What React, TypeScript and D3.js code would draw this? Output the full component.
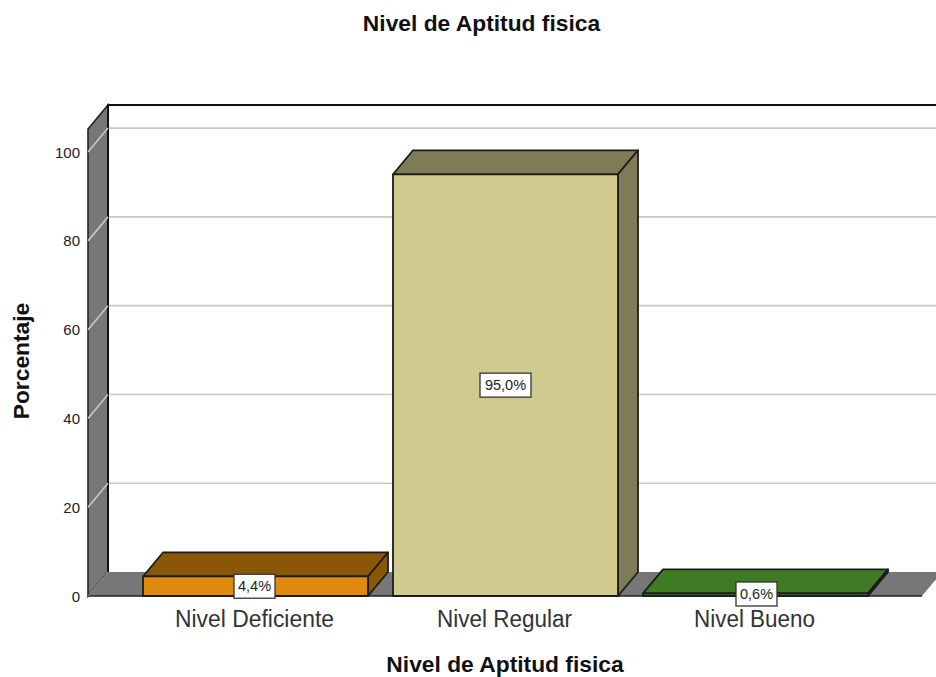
import React from "react";
import * as d3 from "d3";

const categories = ["Nivel Deficiente", "Nivel Regular", "Nivel Bueno"];
const percentages = [4.4, 95.0, 0.6];
const percentLabels = ["4,4%", "95,0%", "0,6%"];
const frontColors = ["#e08b10", "#cfca8e", "#3f7a25"];
const darkColors = ["#8a5608", "#7f7b57", "#3f7a25"];
const yTicks = [0, 20, 40, 60, 80, 100];
const chartTitle = "Nivel de Aptitud fisica";
const yTitle = "Porcentaje";

const W = 936, H = 677;
const DX = 20, DY = -24;
const FONT = "'Liberation Sans', Arial, sans-serif";

export default function App() {
  const y = d3.scaleLinear().domain([0, 105.2]).range([596, 129]);
  const x = d3.scaleBand<string>().domain(categories).range([130.5, 880.5]).paddingInner(0.1).paddingOuter(0.05);
  const bw = x.bandwidth();
  const y0 = y(0);
  const yTop = y(105.2);
  const xL = 88;
  const xR = 922;
  const poly = (pts: number[][]) => pts.map((p) => p.join(",")).join(" ");
  return (
    <svg width={W} height={H} style={{ position: "absolute", left: 0, top: 0, background: "#fff" }} fontFamily={FONT}>
      <text x={481.5} y={31} textAnchor="middle" fontSize={22.8} fontWeight="bold" fill="#111">{chartTitle}</text>

      {/* back wall */}
      <polyline points={poly([[xL + DX, y0 + DY], [xL + DX, yTop + DY], [W + 5, yTop + DY]])} fill="none" stroke="#111" strokeWidth={1.8} />
      {/* left wall */}
      <polygon points={poly([[xL, y0], [xL, yTop], [xL + DX, yTop + DY], [xL + DX, y0 + DY]])} fill="#777777" stroke="#222" strokeWidth={1.6} />
      {/* floor */}
      <polygon points={poly([[xL, y0], [xL + DX, y0 + DY], [xR + DX, y0 + DY], [xR, y0]])} fill="#777777" stroke="none" />
      <line x1={xL} y1={y0} x2={xR} y2={y0} stroke="#222" strokeWidth={1.6} />
      <line x1={xL + DX} y1={y0 + DY} x2={xL + DX} y2={yTop + DY} stroke="#111" strokeWidth={1.8} />

      {/* grid */}
      {yTicks.filter((t) => t > 0).map((t) => (
        <g key={t} stroke="#c8c8c8" strokeWidth={1.6}>
          <line x1={xL + DX + 1} y1={y(t) + DY} x2={W} y2={y(t) + DY} />
          <line x1={xL} y1={y(t)} x2={xL + DX} y2={y(t) + DY} />
        </g>
      ))}
      <line x1={xL} y1={y0} x2={xL + DX} y2={y0 + DY} stroke="#9a9a9a" strokeWidth={1} />

      {/* axis */}
      {yTicks.map((t) => (
        <text key={t} x={80} y={y(t) + 5.5} textAnchor="end" fontSize={15} fill="#222">{t}</text>
      ))}
      <text transform="translate(29,361) rotate(-90)" textAnchor="middle" fontSize={22.8} fontWeight="bold" fill="#111">{yTitle}</text>

      {/* bars */}
      {categories.map((c, i) => {
        const x0 = x(c)!;
        const x1 = x0 + bw;
        const t = y(percentages[i]);
        return (
          <g key={c} stroke="#1c1c1c" strokeWidth={1.8} strokeLinejoin="round">
            <polygon points={poly([[x0, t], [x0 + DX, t + DY], [x1 + DX, t + DY], [x1, t]])} fill={darkColors[i]} />
            <polygon points={poly([[x1, t], [x1 + DX, t + DY], [x1 + DX, y0 + DY], [x1, y0]])} fill={darkColors[i]} />
            <rect x={x0} y={t} width={bw} height={y0 - t} fill={frontColors[i]} />
          </g>
        );
      })}

      {/* labels */}
      {categories.map((c, i) => {
        const cx = x(c)! + bw / 2 + (i === 2 ? 1 : 0) - (i === 0 ? 1 : 0);
        const cy = i === 2 ? 594 : y(percentages[i] / 2);
        const w = i === 1 ? 51 : 41;
        return (
          <g key={c}>
            <rect x={cx - w / 2} y={cy - 12} width={w} height={24} fill="#fff" stroke="#333" strokeWidth={1.3} />
            <text x={cx} y={cy + 5} textAnchor="middle" fontSize={14.5} fill="#222">{percentLabels[i]}</text>
          </g>
        );
      })}

      {categories.map((c) => (
        <text key={c} x={x(c)! + bw / 2 - 1} y={627} textAnchor="middle" fontSize={23} textLength={c === "Nivel Deficiente" ? 159 : c === "Nivel Regular" ? 135 : 121} lengthAdjust="spacingAndGlyphs" fill="#333">{c}</text>
      ))}
      <text x={505} y={672} textAnchor="middle" fontSize={22.8} fontWeight="bold" fill="#111">{chartTitle}</text>
    </svg>
  );
}
